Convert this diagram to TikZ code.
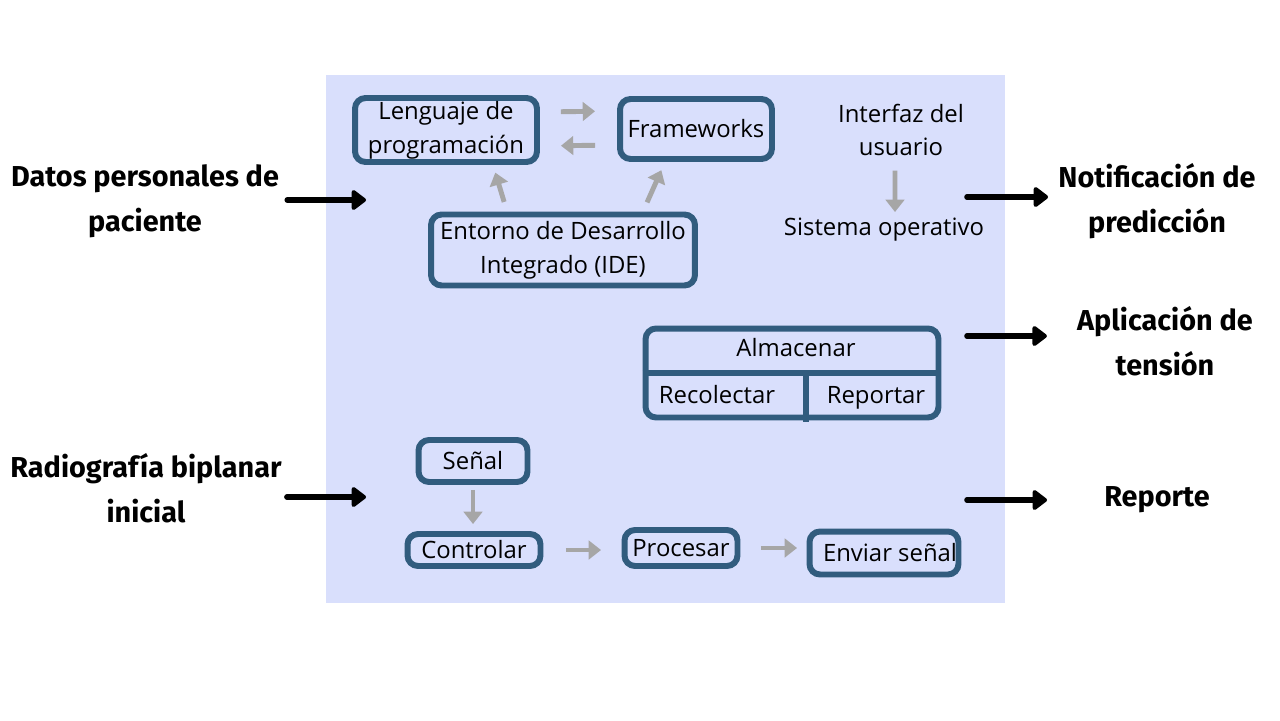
\documentclass[tikz,border=0pt]{standalone}
\usepackage{fontspec}
\setmainfont{Open Sans}
\newfontfamily\labelfont{Fira Sans}
\usepackage{xcolor}
\usetikzlibrary{arrows.meta,positioning}
\definecolor{panelbg}{HTML}{D9DFFC}
\definecolor{boxline}{HTML}{315C7E}
\definecolor{flowgray}{HTML}{A6A6A6}

\begin{document}
\begin{tikzpicture}[x=0.02cm,y=-0.02cm,
  box/.style={draw=boxline,line width=3.4pt,rounded corners=6pt,inner sep=0pt,align=center,font=\fontsize{13.6}{19.3}\selectfont},
  txt/.style={inner sep=0pt,align=center,font=\fontsize{13.6}{19.3}\selectfont},
  lbl/.style={inner sep=0pt,align=center,font=\labelfont\bfseries\fontsize{16.4}{25.5}\selectfont},
  flow/.style={draw=flowgray,line width=2.8pt,-{Triangle[length=7pt,width=10.5pt]}},
  io/.style={draw=black,line width=3.2pt,line cap=round,-{Triangle[length=9pt,width=13pt,round]}}]
\fill[white] (0,0) rectangle (1280,720);
\useasboundingbox (0,0) rectangle (1280,720);
\fill[panelbg] (326,75) rectangle (1005,603);

\node[box,minimum width=3.64cm,minimum height=1.28cm] (lang) at (446,130) {Lenguaje de\\programación};
\node[box,minimum width=3.04cm,minimum height=1.2cm] (frame) at (696,129) {Frameworks};
\node[box,minimum width=5.28cm,minimum height=1.42cm] (ide) at (563,250) {Entorno de Desarrollo\\Integrado (IDE)};
\node[txt] (ui) at (901,130) {Interfaz del\\usuario};
\node[txt] (os) at (884,230) {Sistema operativo};

\node[box,minimum width=5.86cm,minimum height=1.78cm] (store) at (792,373) {};
\node[txt] (save) at (796,348) {Almacenar};
\node[txt,anchor=base] (collect) at (717,403) {Recolectar};
\node[txt,anchor=base] (report) at (876,403) {Reportar};
\draw[boxline,line width=3.4pt] (store.west) -- (store.east);
\draw[boxline,line width=3.4pt] ([xshift=0.28cm]store.center) -- ([xshift=0.28cm,yshift=-0.04cm]store.south);

\node[box,minimum width=2.18cm,minimum height=0.84cm] (signal) at (473,461) {Señal};
\node[box,minimum width=2.66cm,minimum height=0.64cm] (ctrl) at (474,550) {Controlar};
\node[box,minimum width=2.98cm,minimum height=0.86cm] (send) at (884,553) {\hspace{0.24cm}Enviar señal};
\node[box,minimum width=2.26cm,minimum height=0.72cm] (proc) at (681,548) {Procesar};

\node[lbl] (patient) at (145,201) {Datos personales de\\paciente};
\node[lbl] (xray) at (146,488) {Radiografía biplanar\\inicial};
\node[lbl] (notif) at (1157,201) {Notificación de\\predicción};
\node[lbl] (tension) at (1165,341) {Aplicación de\\tensión};
\node[lbl] (rep) at (1157,500) {Reporte};

\coordinate (inA) at (366,200);
\coordinate (inB) at (366,497);
\coordinate (outA) at (967,197);
\coordinate (outB) at (967,336);
\coordinate (outC) at (967,500);

\draw[flow,shorten <=0.42cm,shorten >=0.44cm] ([yshift=0.36cm]lang.east) -- ([yshift=0.36cm]frame.west);
\draw[flow,shorten <=0.44cm,shorten >=0.42cm] ([yshift=-0.32cm]frame.west) -- ([yshift=-0.32cm]lang.east);
\draw[flow,shorten <=0.2cm,shorten >=0.16cm] ([xshift=-1.12cm]ide.north) -- ([xshift=0.94cm]lang.south);
\draw[flow,shorten <=0.2cm,shorten >=0.18cm] ([xshift=1.6cm]ide.north) -- ([xshift=-0.62cm]frame.south);
\draw[flow,shorten <=0.28cm,shorten >=0.12cm] ([xshift=-0.12cm]ui.south) -- ([xshift=0.22cm]os.north);
\draw[flow,shorten <=0.1cm,shorten >=0.14cm] (signal.south) -- (signal.south |- ctrl.north);
\draw[flow,shorten <=0.45cm,shorten >=0.41cm] (ctrl.east) -- (ctrl.east -| proc.west);
\draw[flow,shorten <=0.41cm,shorten >=0.19cm] (proc.east) -- (proc.east -| send.west);

\draw[io] (inA -| patient.east) ++(0.16cm,0) -- (inA);
\draw[io] (inB -| xray.east) ++(0.1cm,0) -- (inB);
\draw[io,shorten >=0.2cm] (outA) -- (outA -| notif.west);
\draw[io,shorten >=0.6cm] (outB) -- (outB -| tension.west);
\draw[io,shorten >=1.14cm] (outC) -- (outC -| rep.west);
\end{tikzpicture}
\end{document}
